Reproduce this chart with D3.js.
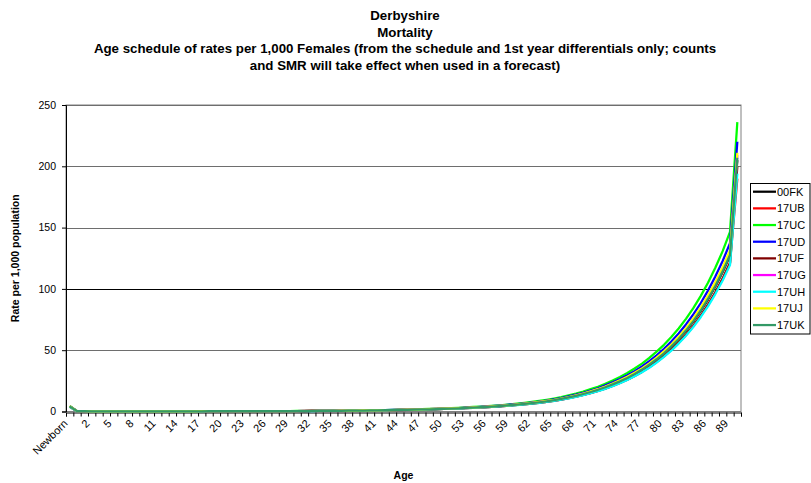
<!DOCTYPE html>
<html>
<head>
<meta charset="utf-8">
<script src="https://cdn.jsdelivr.net/npm/d3@7/dist/d3.min.js"></script>
<style>
  html, body { margin: 0; padding: 0; background: #fff; }
  svg { display: block; font-family: Arial, "Liberation Sans", sans-serif; }
</style>
</head>
<body>
<svg id="chart" width="811" height="483"></svg>
<script>
// Age categories: "Newborn" then single years 0..90
const ages = ["Newborn"].concat(d3.range(0, 91).map(String));

// Female mortality rates per 1,000 by age, one array per area code
const r00FK = [4.2, 0.30, 0.22, 0.15, 0.12, 0.10, 0.09, 0.09, 0.08, 0.08, 0.08, 0.08, 0.08, 0.09, 0.10, 0.12, 0.15, 0.17, 0.20, 0.22, 0.23, 0.23, 0.24, 0.24, 0.25, 0.26, 0.27, 0.28, 0.30, 0.32, 0.34, 0.37, 0.40, 0.43, 0.47, 0.51, 0.56, 0.61, 0.67, 0.73, 0.80,
  0.87, 0.95, 1.05, 1.15, 1.25, 1.40, 1.50, 1.65, 1.80, 2.00,
  2.20, 2.40, 2.60, 2.90, 3.20, 3.50, 3.80, 4.20, 4.60, 5.10,
  5.60, 6.20, 6.80, 7.50, 8.30, 9.20, 10.2, 11.4, 12.7, 14.2,
  15.8, 17.6, 19.7, 22.0, 24.5, 27.3, 30.5, 34.0, 38.0, 42.4,
  47.3, 52.8, 58.9, 65.7, 73.3, 81.8, 91.3, 101.9, 113.7, 127.0,
  205];
const r17UB = [4.0, 0.29, 0.21, 0.14, 0.11, 0.10, 0.09, 0.09, 0.08, 0.08, 0.08, 0.08, 0.08, 0.09, 0.10, 0.11, 0.14, 0.16, 0.19, 0.21, 0.22, 0.22, 0.23, 0.23, 0.24, 0.25, 0.26, 0.27, 0.29, 0.31, 0.32, 0.35, 0.38, 0.41, 0.45, 0.49, 0.53, 0.58, 0.64, 0.70, 0.76,
  0.83, 0.91, 1.00, 1.10, 1.19, 1.34, 1.43, 1.58, 1.72, 1.91,
  2.10, 2.29, 2.48, 2.77, 3.06, 3.34, 3.63, 4.01, 4.39, 4.87,
  5.35, 5.92, 6.49, 7.16, 7.93, 8.79, 9.74, 10.9, 12.1, 13.6,
  15.1, 16.8, 18.8, 21.0, 23.4, 26.1, 29.1, 32.5, 36.3, 40.5,
  45.2, 50.4, 56.2, 62.7, 70.0, 78.1, 87.2, 97.3, 108.6, 121.3,
  190];
const r17UC = [4.6, 0.35, 0.25, 0.17, 0.14, 0.12, 0.10, 0.10, 0.09, 0.09, 0.09, 0.09, 0.09, 0.10, 0.12, 0.14, 0.17, 0.20, 0.23, 0.25, 0.26, 0.26, 0.28, 0.28, 0.29, 0.30, 0.31, 0.32, 0.35, 0.37, 0.39, 0.43, 0.46, 0.49, 0.54, 0.59, 0.64, 0.70, 0.77, 0.84, 0.92,
  1.00, 1.09, 1.21, 1.32, 1.44, 1.61, 1.73, 1.90, 2.07, 2.30,
  2.53, 2.76, 2.99, 3.34, 3.68, 4.03, 4.37, 4.83, 5.29, 5.87,
  6.44, 7.13, 7.82, 8.63, 9.55, 10.6, 11.7, 13.1, 14.6, 16.3,
  18.2, 20.2, 22.7, 25.3, 28.2, 31.4, 35.1, 39.1, 43.7, 48.8,
  54.4, 60.7, 67.7, 75.6, 84.3, 94.1, 105.0, 117.2, 130.8, 146.5,
  236];
const r17UD = [4.3, 0.32, 0.24, 0.16, 0.13, 0.11, 0.10, 0.10, 0.09, 0.09, 0.09, 0.09, 0.09, 0.10, 0.11, 0.13, 0.16, 0.18, 0.22, 0.24, 0.25, 0.25, 0.26, 0.26, 0.27, 0.28, 0.29, 0.30, 0.32, 0.35, 0.37, 0.40, 0.43, 0.46, 0.51, 0.55, 0.60, 0.66, 0.72, 0.79, 0.86,
  0.94, 1.03, 1.13, 1.24, 1.35, 1.51, 1.62, 1.78, 1.94, 2.16,
  2.38, 2.59, 2.81, 3.13, 3.46, 3.78, 4.10, 4.54, 4.97, 5.51,
  6.05, 6.70, 7.34, 8.10, 8.96, 9.94, 11.0, 12.3, 13.7, 15.3,
  17.1, 19.0, 21.3, 23.8, 26.5, 29.5, 32.9, 36.7, 41.0, 45.8,
  51.1, 57.0, 63.6, 71.0, 79.2, 88.3, 98.6, 110.1, 122.8, 137.2,
  220];
const r17UF = [3.9, 0.29, 0.21, 0.14, 0.11, 0.10, 0.09, 0.09, 0.08, 0.08, 0.08, 0.08, 0.08, 0.09, 0.10, 0.11, 0.14, 0.16, 0.19, 0.21, 0.22, 0.22, 0.23, 0.23, 0.24, 0.25, 0.26, 0.27, 0.29, 0.30, 0.32, 0.35, 0.38, 0.41, 0.45, 0.48, 0.53, 0.58, 0.64, 0.69, 0.76,
  0.83, 0.90, 1.00, 1.09, 1.19, 1.33, 1.43, 1.57, 1.71, 1.90,
  2.09, 2.28, 2.47, 2.76, 3.04, 3.33, 3.61, 3.99, 4.37, 4.85,
  5.32, 5.89, 6.46, 7.13, 7.89, 8.74, 9.69, 10.8, 12.1, 13.5,
  15.0, 16.7, 18.7, 20.9, 23.3, 25.9, 29.0, 32.3, 36.1, 40.3,
  44.9, 50.2, 56.0, 62.4, 69.6, 77.7, 86.7, 96.8, 108.0, 120.7,
  200];
const r17UG = [4.1, 0.31, 0.22, 0.15, 0.12, 0.10, 0.09, 0.09, 0.08, 0.08, 0.08, 0.08, 0.08, 0.09, 0.10, 0.12, 0.15, 0.17, 0.20, 0.22, 0.23, 0.23, 0.24, 0.24, 0.26, 0.27, 0.28, 0.29, 0.31, 0.33, 0.35, 0.38, 0.41, 0.44, 0.48, 0.52, 0.57, 0.62, 0.68, 0.74, 0.82,
  0.89, 0.97, 1.07, 1.17, 1.28, 1.43, 1.53, 1.68, 1.84, 2.04,
  2.24, 2.45, 2.65, 2.96, 3.26, 3.57, 3.88, 4.28, 4.69, 5.20,
  5.71, 6.32, 6.94, 7.65, 8.47, 9.38, 10.4, 11.6, 13.0, 14.5,
  16.1, 18.0, 20.1, 22.4, 25.0, 27.8, 31.1, 34.7, 38.8, 43.2,
  48.2, 53.9, 60.1, 67.0, 74.8, 83.4, 93.1, 103.9, 116.0, 129.5,
  209];
const r17UH = [3.8, 0.28, 0.21, 0.14, 0.11, 0.09, 0.08, 0.08, 0.08, 0.08, 0.08, 0.08, 0.08, 0.08, 0.09, 0.11, 0.14, 0.16, 0.19, 0.21, 0.22, 0.22, 0.23, 0.23, 0.24, 0.24, 0.25, 0.26, 0.28, 0.30, 0.32, 0.35, 0.38, 0.40, 0.44, 0.48, 0.53, 0.57, 0.63, 0.69, 0.75,
  0.82, 0.89, 0.99, 1.08, 1.18, 1.32, 1.41, 1.55, 1.69, 1.88,
  2.07, 2.26, 2.44, 2.73, 3.01, 3.29, 3.57, 3.95, 4.32, 4.79,
  5.26, 5.83, 6.39, 7.05, 7.80, 8.65, 9.59, 10.7, 11.9, 13.3,
  14.9, 16.5, 18.5, 20.7, 23.0, 25.7, 28.7, 32.0, 35.7, 39.9,
  44.5, 49.6, 55.4, 61.8, 68.9, 76.9, 85.8, 95.8, 106.9, 119.4,
  194];
const r17UJ = [4.4, 0.31, 0.23, 0.16, 0.12, 0.10, 0.09, 0.09, 0.08, 0.08, 0.08, 0.08, 0.08, 0.09, 0.10, 0.12, 0.16, 0.18, 0.21, 0.23, 0.24, 0.24, 0.25, 0.25, 0.26, 0.27, 0.28, 0.29, 0.31, 0.33, 0.35, 0.38, 0.41, 0.45, 0.49, 0.53, 0.58, 0.63, 0.69, 0.76, 0.83,
  0.90, 0.98, 1.09, 1.19, 1.29, 1.45, 1.55, 1.71, 1.86, 2.07,
  2.28, 2.48, 2.69, 3.00, 3.31, 3.62, 3.93, 4.35, 4.76, 5.28,
  5.80, 6.42, 7.04, 7.76, 8.59, 9.52, 10.6, 11.8, 13.1, 14.7,
  16.4, 18.2, 20.4, 22.8, 25.4, 28.3, 31.6, 35.2, 39.3, 43.9,
  49.0, 54.6, 61.0, 68.0, 75.9, 84.7, 94.5, 105.5, 117.7, 131.4,
  211];
const r17UK = [4.2, 0.30, 0.22, 0.15, 0.12, 0.10, 0.09, 0.09, 0.08, 0.08, 0.08, 0.08, 0.08, 0.09, 0.10, 0.12, 0.15, 0.17, 0.20, 0.22, 0.23, 0.23, 0.24, 0.24, 0.25, 0.26, 0.27, 0.28, 0.30, 0.32, 0.34, 0.37, 0.40, 0.43, 0.47, 0.51, 0.56, 0.61, 0.67, 0.73, 0.80,
  0.87, 0.96, 1.06, 1.16, 1.26, 1.41, 1.51, 1.66, 1.81, 2.01,
  2.21, 2.41, 2.61, 2.91, 3.22, 3.52, 3.82, 4.22, 4.62, 5.13,
  5.63, 6.23, 6.83, 7.54, 8.34, 9.25, 10.3, 11.5, 12.8, 14.3,
  15.9, 17.7, 19.8, 22.1, 24.6, 27.4, 30.7, 34.2, 38.2, 42.6,
  47.5, 53.1, 59.2, 66.0, 73.7, 82.2, 91.8, 102.4, 114.3, 127.6,
  207];

const seriesNames  = ["00FK", "17UB", "17UC", "17UD", "17UF", "17UG", "17UH", "17UJ", "17UK"];
const seriesValues = [r00FK, r17UB, r17UC, r17UD, r17UF, r17UG, r17UH, r17UJ, r17UK];
const seriesColors = ["#000000", "#ff0000", "#00ff00", "#0000ff", "#800000", "#ff00ff", "#00ffff", "#ffff00", "#339966"];

const yTicks = [0, 50, 100, 150, 200, 250];

const titleLines = [
  "Derbyshire",
  "Mortality",
  "Age schedule of rates per 1,000 Females (from the schedule and 1st year differentials only; counts",
  "and SMR will take effect when used in a forecast)"
];

const svg = d3.select("#chart");
const plot = { left: 66, right: 741, top: 105, bottom: 411.5 };

const x = d3.scaleBand().domain(ages).range([plot.left, plot.right]).paddingInner(0).paddingOuter(0);
const xEdge = d3.scaleLinear().domain([0, ages.length]).range([plot.left, plot.right]);
const y = d3.scaleLinear().domain([0, 250]).range([plot.bottom, plot.top]);
const cx = d => x(d) + x.bandwidth() / 2;

// Title
svg.append("g").selectAll("text").data(titleLines).join("text")
  .attr("x", 405)
  .attr("y", (d, i) => 20 + i * 16.5)
  .attr("text-anchor", "middle")
  .attr("font-size", "13.3px")
  .attr("font-weight", "bold")
  .text(d => d);

// Plot area border
svg.append("rect")
  .attr("x", plot.left).attr("y", plot.top)
  .attr("width", plot.right - plot.left).attr("height", plot.bottom - plot.top)
  .attr("fill", "none").attr("stroke", "#808080").attr("stroke-width", 1);

// Horizontal gridlines
svg.append("g").selectAll("line").data(yTicks.filter(v => v > 0)).join("line")
  .attr("x1", plot.left).attr("x2", plot.right)
  .attr("y1", d => Math.round(y(d)) + 0.5).attr("y2", d => Math.round(y(d)) + 0.5)
  .attr("stroke", d => d === 100 ? "#000" : "#6e6e6e")
  .attr("stroke-width", 1);

// Y axis
const yAxis = svg.append("g")
  .attr("transform", `translate(${plot.left},0)`)
  .call(d3.axisLeft(y).tickValues(yTicks).tickSize(4).tickPadding(6));
yAxis.select(".domain").attr("stroke", "#000");
yAxis.selectAll(".tick line").attr("stroke", "#000");
yAxis.selectAll(".tick text").attr("font-size", "10.5px").attr("font-family", "Arial, 'Liberation Sans', sans-serif").attr("fill", "#000");

// X axis: tick marks between categories
const xAxis = svg.append("g")
  .attr("transform", `translate(0,${Math.round(plot.bottom) + 0.5})`)
  .call(d3.axisBottom(xEdge).tickValues(d3.range(0, ages.length + 1)).tickSize(4).tickFormat(""));
xAxis.select(".domain").attr("stroke", "#000");
xAxis.selectAll(".tick line").attr("stroke", "#000");

// Rotated category labels, every third age
svg.append("g").selectAll("text")
  .data(ages.filter((d, i) => i % 3 === 0 && i < ages.length - 1))
  .join("text")
  .attr("transform", d => `translate(${cx(d) - 4},${plot.bottom + 10}) rotate(-45)`)
  .attr("text-anchor", "end")
  .attr("dy", "0.35em")
  .attr("font-size", "11px")
  .text(d => d);

// Axis titles
svg.append("text")
  .attr("x", (plot.left + plot.right) / 2).attr("y", 479)
  .attr("text-anchor", "middle").attr("font-size", "10.5px").attr("font-weight", "bold")
  .text("Age");
svg.append("text")
  .attr("transform", `translate(19,${(plot.top + plot.bottom) / 2}) rotate(-90)`)
  .attr("text-anchor", "middle").attr("font-size", "10.5px").attr("font-weight", "bold")
  .text("Rate per 1,000 population");

// Series lines
const line = d3.line().x((d, i) => cx(ages[i])).y(d => y(d));
svg.append("g").selectAll("path").data(seriesValues).join("path")
  .attr("d", d => line(d))
  .attr("fill", "none")
  .attr("stroke", (d, i) => seriesColors[i])
  .attr("stroke-width", 2.25)
  .attr("stroke-linejoin", "round");

// Legend
const legend = svg.append("g");
legend.append("rect")
  .attr("x", 750.5).attr("y", 183.5).attr("width", 59.5).attr("height", 150.5)
  .attr("fill", "#fff").attr("stroke", "#000").attr("stroke-width", 1);
const items = legend.selectAll("g.item").data(seriesNames).join("g")
  .attr("class", "item")
  .attr("transform", (d, i) => `translate(0,${191.7 + i * 16.67})`);
items.append("line")
  .attr("x1", 753).attr("x2", 776).attr("y1", 0).attr("y2", 0)
  .attr("stroke", (d, i) => seriesColors[i]).attr("stroke-width", 2.25);
items.append("text")
  .attr("x", 777).attr("y", 0).attr("dy", "0.35em")
  .attr("font-size", "11px")
  .text(d => d);
</script>
</body>
</html>
